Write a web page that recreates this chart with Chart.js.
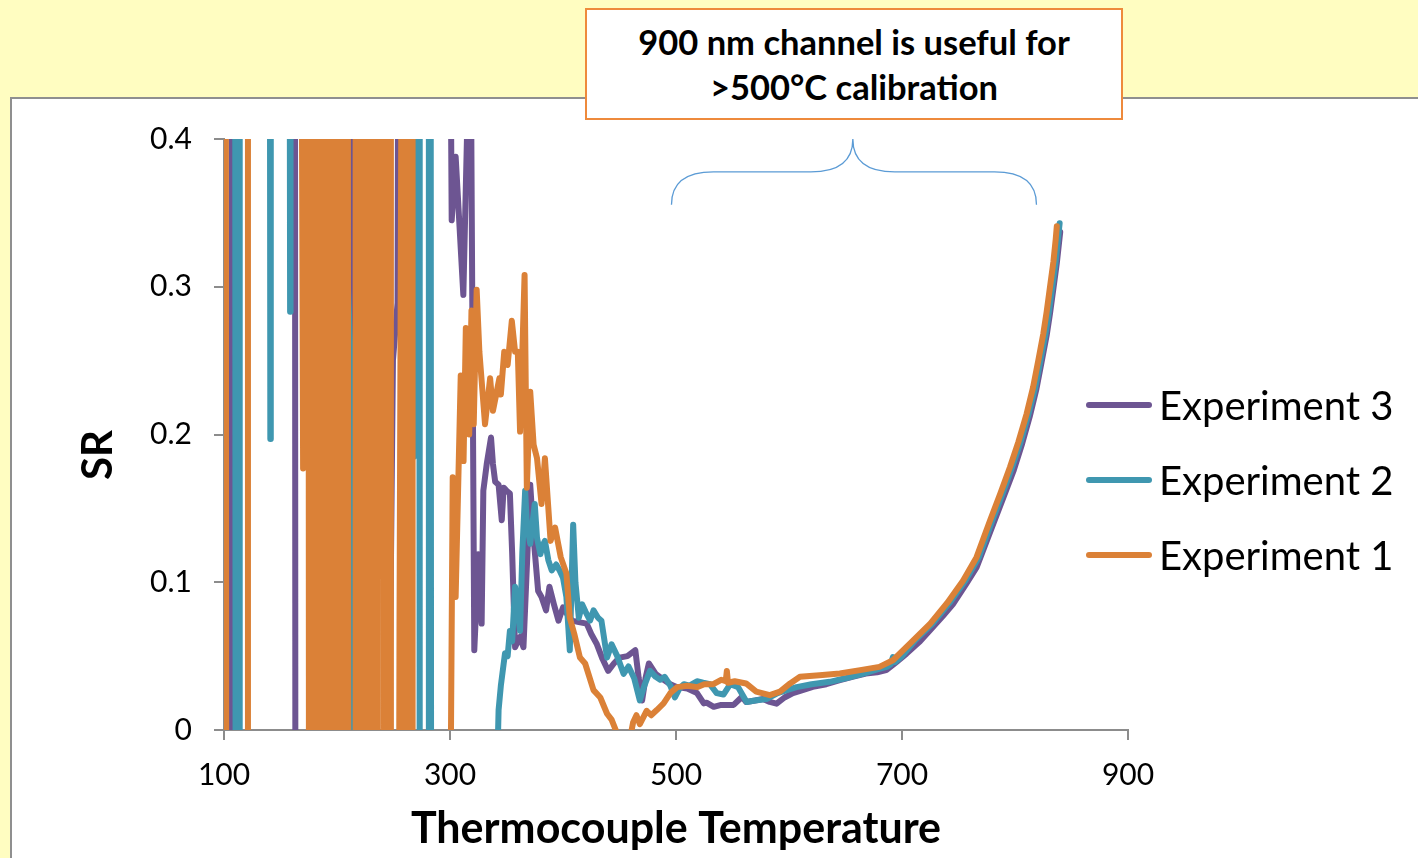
<!DOCTYPE html>
<html>
<head>
<meta charset="utf-8">
<script src="https://cdn.jsdelivr.net/npm/chart.js@4.4.1/dist/chart.umd.min.js"></script>
<style>
  html, body { margin: 0; padding: 0; }
  body { width: 1418px; height: 858px; background: #FFFDC1; position: relative; overflow: hidden; font-family: Lato, "Open Sans", sans-serif; }
  .panel { position: absolute; left: 10px; top: 97px; width: 1430px; height: 800px; background: #fff; border: 2px solid #8f8f8f; box-sizing: border-box; }
  .chart-wrap { position: absolute; left: 12px; top: 99px; width: 1406px; height: 759px; }
  .callout { position: absolute; left: 585px; top: 8px; width: 538px; height: 112px; box-sizing: border-box; border: 2.5px solid #EE8A3C; background: #fff;
    display: flex; align-items: center; justify-content: center; text-align: center; font-weight: bold; font-size: 34.5px; line-height: 45px; color: #000; z-index: 2; }
  #legend { position: absolute; left: 1086px; top: 367px; z-index: 2; }
  .legend-row { height: 75px; display: flex; align-items: center; }
  .legend-line { width: 66px; height: 6px; border-radius: 3px; margin-right: 7px; }
  .legend-text { font-size: 40px; color: #000; }
</style>
</head>
<body>
<div class="panel"></div>
<div class="chart-wrap"><canvas id="sr-chart"></canvas></div>
<div class="callout">900 nm channel is useful for<br>&gt;500°C calibration</div>
<div id="legend"></div>
<script>
// Experiment 1 (orange)
const exp1Temp = [101.6, 102.0, 120.8, 121.2, 168.6, 170.0, 171.4,
  174.8, 175.2, 178.3, 178.7, 181.8, 182.2, 185.3, 185.7, 188.8, 189.2, 192.3, 192.7, 195.8, 196.2,
  199.3, 199.7, 202.8, 203.2, 206.3, 206.7, 209.6, 210.0,
  216.1, 216.5, 219.6, 220.0, 223.1, 223.5, 226.6, 227.0, 230.1, 230.5, 233.6, 234.0, 236.1, 236.5,
  241.3, 241.7, 244.5, 244.9, 247.3, 247.7,
  254.8, 255.3, 257.3, 259.3, 259.7, 262.8, 263.2, 266.5, 266.9,
  300.0, 302.4, 305, 309.5, 312, 314, 317, 319, 321, 323.6, 326, 331, 335.5, 338, 343.7, 345, 348, 351,
  354.7, 357.6, 360, 362, 366, 368, 371, 374, 377, 381, 384, 389, 393, 398, 403, 406, 410, 415, 419.6,
  427, 433, 439, 443, 447.7, 452, 459.5, 462, 465, 468, 474, 478, 483, 489, 495, 501, 510, 518.6, 525,
  533, 540, 544, 545, 546, 552, 562, 571, 583, 592, 601, 609.7, 627, 645, 663, 680, 692, 707, 725, 740,
  754, 766, 778, 787, 795.6, 803, 810.3, 816, 820.6, 825, 828, 831, 834, 836, 837];
const exp1SR = [0.5, -0.1, -0.1, 0.5, 0.5, 0.177, 0.5,
  0.5, -0.1, -0.1, 0.5, 0.5, -0.1, -0.1, 0.5, 0.5, -0.1, -0.1, 0.5, 0.5, -0.1,
  -0.1, 0.5, 0.5, -0.1, -0.1, 0.5, 0.5, -0.1,
  -0.1, 0.5, 0.5, -0.1, -0.1, 0.5, 0.5, -0.1, -0.1, 0.5, 0.5, -0.1, -0.1, 0.5,
  0.5, -0.1, -0.1, 0.5, 0.5, -0.1,
  -0.1, 0.067, 0.5, 0.5, -0.1, -0.1, 0.5, 0.5, -0.1,
  -0.1, 0.171, 0.09, 0.24, 0.182, 0.272, 0.2, 0.284, 0.207, 0.298, 0.256, 0.207, 0.238, 0.216, 0.238, 0.227, 0.256, 0.247,
  0.277, 0.256, 0.256, 0.202, 0.308, 0.164, 0.229, 0.193, 0.184, 0.153, 0.184, 0.128, 0.137, 0.117, 0.106, 0.076, 0.065, 0.049, 0.045,
  0.027, 0.022, 0.011, 0.007, -0.002, -0.01, -0.005, 0.005, 0.01, 0.004, 0.013, 0.01, 0.0135, 0.018, 0.025, 0.029, 0.03, 0.029, 0.031,
  0.031, 0.034, 0.033, 0.04, 0.032, 0.033, 0.0315, 0.026, 0.0236, 0.026, 0.0315, 0.036, 0.037, 0.0382, 0.0405, 0.0427, 0.0472, 0.0584, 0.072, 0.086,
  0.101, 0.117, 0.142, 0.16, 0.178, 0.195, 0.214, 0.232, 0.25, 0.268, 0.283, 0.3, 0.317, 0.332, 0.341];

// Experiment 2 (teal)
const exp2Temp = [109.9, 110.3, 113.5, 113.9, 140.6, 141.0, 141.4, 158.1, 158.5, 158.9,
  200.0, 212.9, 213.2, 265.2, 265.6, 267.6, 268.0, 268.4, 272.8, 273.2, 280.9, 281.3, 282.9, 283.3,
  339.5, 343, 345, 348.7, 351, 353, 355, 357.6, 360, 362, 364, 366.5, 368, 371, 373, 375, 377, 380, 382, 384,
  387, 390, 394, 397, 400, 403, 406, 409, 411, 414, 417, 420, 424, 427, 431, 434, 439, 443, 448, 453.6, 458,
  463, 468, 472, 477, 482, 486, 490, 495, 499, 503, 507, 512, 518.6, 524, 530, 536, 542, 548, 555, 562.5,
  570, 580, 590, 598, 606.7, 620, 636, 650, 666, 678, 686.5, 690, 692, 694, 700, 712, 727, 742, 756, 768,
  780, 789, 797.5, 805, 812, 818, 822.5, 827, 830, 833, 836, 838, 839.5];
const exp2SR = [0.5, -0.1, -0.1, 0.5, 0.5, 0.197, 0.5, 0.5, 0.283, 0.5,
  0.5, 0.234, -0.1, -0.1, 0.5, 0.5, 0.185, 0.5, 0.5, -0.1, -0.1, 0.5, 0.5, -0.1,
  -0.1, 0.0135, 0.03, 0.052, 0.05, 0.067, 0.06, 0.097, 0.08, 0.067, 0.12, 0.162, 0.14, 0.126, 0.14, 0.153, 0.13, 0.119, 0.125, 0.128,
  0.115, 0.108, 0.112, 0.108, 0.103, 0.09, 0.054, 0.139, 0.1, 0.076, 0.085, 0.08, 0.074, 0.081, 0.076, 0.074, 0.049, 0.058, 0.05, 0.038, 0.043,
  0.035, 0.02, 0.03, 0.04, 0.036, 0.034, 0.036, 0.03, 0.022, 0.028, 0.031, 0.03, 0.033, 0.032, 0.031, 0.025, 0.024, 0.031, 0.029, 0.019,
  0.02, 0.021, 0.025, 0.027, 0.029, 0.031, 0.0326, 0.035, 0.0382, 0.041, 0.0427, 0.0445, 0.0494, 0.046, 0.05, 0.061, 0.072, 0.086, 0.101, 0.117,
  0.142, 0.16, 0.178, 0.195, 0.214, 0.232, 0.25, 0.268, 0.283, 0.3, 0.317, 0.332, 0.343];

// Experiment 3 (purple)
const exp3Temp = [106.4, 106.8, 162.8, 163.2, 212.8, 213.2, 230.3, 230.7, 245.0, 249.5, 253.6, 254.2,
  300.2, 301.5, 305, 311.8, 316.5, 318.5, 321.5, 323, 325, 328, 329.5, 332.5, 336.3, 338, 340, 343, 345.8, 347.5,
  350, 353, 355, 357.6, 360, 362, 365, 368, 371, 374, 378, 381, 385, 388, 392, 396, 400, 404, 408, 414, 421,
  425, 430, 435, 440, 445, 450, 457, 464, 467, 470, 473, 476, 482, 489, 495, 501, 510, 518.6, 524.6, 527, 533.4,
  540, 551, 558.5, 562, 570, 577, 583, 589, 596, 603.5, 612, 621, 633, 645, 656, 668, 678, 686, 695, 704, 716,
  727.4, 736, 745, 757, 766, 781, 790, 799, 806, 813, 819, 823.5, 828, 831, 834, 837, 839, 840];
const exp3SR = [-0.1, 0.5, 0.5, -0.1, -0.1, 0.5, 0.5, -0.1, -0.1, 0.25, 0.289, 0.5,
  0.5, 0.345, 0.388, 0.2945, 0.45, 0.45, 0.054, 0.08, 0.119, 0.072, 0.162, 0.18, 0.198, 0.18, 0.168, 0.166, 0.142, 0.164,
  0.162, 0.16, 0.12, 0.056, 0.06, 0.063, 0.056, 0.11, 0.166, 0.13, 0.094, 0.09, 0.081, 0.097, 0.085, 0.074, 0.083, 0.078, 0.074, 0.073, 0.072,
  0.065, 0.058, 0.048, 0.04, 0.045, 0.049, 0.05, 0.054, 0.035, 0.02, 0.035, 0.045, 0.038, 0.034, 0.031, 0.029, 0.028, 0.025, 0.018, 0.0185, 0.0157,
  0.017, 0.017, 0.0225, 0.019, 0.02, 0.021, 0.019, 0.0178, 0.022, 0.025, 0.027, 0.0292, 0.031, 0.0337, 0.036, 0.0382, 0.039, 0.0405, 0.046, 0.0517, 0.06,
  0.0697, 0.077, 0.085, 0.099, 0.11, 0.14, 0.158, 0.176, 0.193, 0.212, 0.231, 0.249, 0.267, 0.282, 0.299, 0.316, 0.33, 0.337];

const seriesNames = ['Experiment 3', 'Experiment 2', 'Experiment 1'];
const seriesColors = ['#6D5592', '#3F97B0', '#DB8137'];
const xTickValues = [100, 300, 500, 700, 900];

// brace over the useful range (temperature span, SR levels)
const braceFrom = 496, braceTo = 819, braceTip = 656.5;
const braceLevels = [0.3555, 0.3777, 0.4];

const toPoints = (xs, ys) => xs.map((x, i) => ({ x: x, y: ys[i] }));

const makeSet = (i, xs, ys) => ({
  label: seriesNames[i],
  data: toPoints(xs, ys),
  borderColor: seriesColors[i],
  backgroundColor: seriesColors[i],
  borderWidth: 6,
  borderJoinStyle: 'round',
  borderCapStyle: 'round',
  pointRadius: 0,
  tension: 0,
  order: 3 - i
});

const bracePlugin = {
  id: 'brace',
  afterDraw(chart) {
    const { ctx, scales } = chart;
    const px = v => scales.x.getPixelForValue(v);
    const py = v => scales.y.getPixelForValue(v);
    const x0 = px(braceFrom), x1 = px(braceTo), xm = px(braceTip);
    const yEnd = py(braceLevels[0]), yMid = py(braceLevels[1]), yTip = py(braceLevels[2]);
    const r = 42;
    ctx.save();
    ctx.strokeStyle = '#5B9BD5';
    ctx.lineWidth = 1.3;
    ctx.beginPath();
    ctx.moveTo(x0, yEnd);
    ctx.quadraticCurveTo(x0, yMid, x0 + r, yMid);
    ctx.lineTo(xm - r, yMid);
    ctx.quadraticCurveTo(xm, yMid, xm, yTip);
    ctx.moveTo(x1, yEnd);
    ctx.quadraticCurveTo(x1, yMid, x1 - r, yMid);
    ctx.lineTo(xm + r, yMid);
    ctx.quadraticCurveTo(xm, yMid, xm, yTip);
    ctx.stroke();
    ctx.restore();
  }
};

const axisGray = '#8c8c8c';

const chart = new Chart(document.getElementById('sr-chart'), {
  type: 'line',
  data: {
    datasets: [
      makeSet(0, exp3Temp, exp3SR),
      makeSet(1, exp2Temp, exp2SR),
      makeSet(2, exp1Temp, exp1SR)
    ]
  },
  options: {
    responsive: true,
    maintainAspectRatio: false,
    animation: false,
    events: [],
    layout: { padding: { top: 38, right: 290, bottom: 0, left: 0 } },
    plugins: {
      legend: { display: false },
      tooltip: { enabled: false }
    },
    scales: {
      x: {
        type: 'linear',
        min: 100,
        max: 900,
        afterBuildTicks: scale => { scale.ticks = xTickValues.map(v => ({ value: v })); },
        afterFit: scale => { scale.height = 128; },
        ticks: { color: '#000', font: { family: 'Lato', size: 30 }, padding: 17, maxRotation: 0 },
        grid: { drawOnChartArea: false, drawTicks: true, tickLength: 10, color: axisGray, lineWidth: 2 },
        border: { color: axisGray, width: 2 },
        title: { display: true, text: 'Thermocouple Temperature', color: '#000',
          font: { family: 'Lato', size: 43, weight: 'bold' }, padding: { top: 0, bottom: 3 } }
      },
      y: {
        min: 0,
        max: 0.4,
        afterFit: scale => { scale.width = 212; },
        ticks: { stepSize: 0.1, color: '#000', font: { family: 'Lato', size: 30 }, padding: 22 },
        grid: { drawOnChartArea: false, drawTicks: true, tickLength: 10, color: axisGray, lineWidth: 2 },
        border: { color: axisGray, width: 2 },
        title: { display: true, text: 'SR\u00a0\u00a0\u00a0\u00a0', color: '#000',
          font: { family: 'Lato', size: 42, weight: 'bold' }, padding: { top: 61, bottom: 0 } }
      }
    }
  },
  plugins: [bracePlugin]
});

// html legend built from the chart's own legend labels, in dataset order
const legendBox = document.getElementById('legend');
chart.options.plugins.legend.labels.generateLabels(chart)
  .sort((a, b) => a.datasetIndex - b.datasetIndex)
  .forEach(item => {
    const row = document.createElement('div');
    row.className = 'legend-row';
    const line = document.createElement('span');
    line.className = 'legend-line';
    line.style.background = item.strokeStyle;
    const text = document.createElement('span');
    text.className = 'legend-text';
    text.textContent = item.text;
    row.appendChild(line);
    row.appendChild(text);
    legendBox.appendChild(row);
  });
</script>
</body>
</html>
